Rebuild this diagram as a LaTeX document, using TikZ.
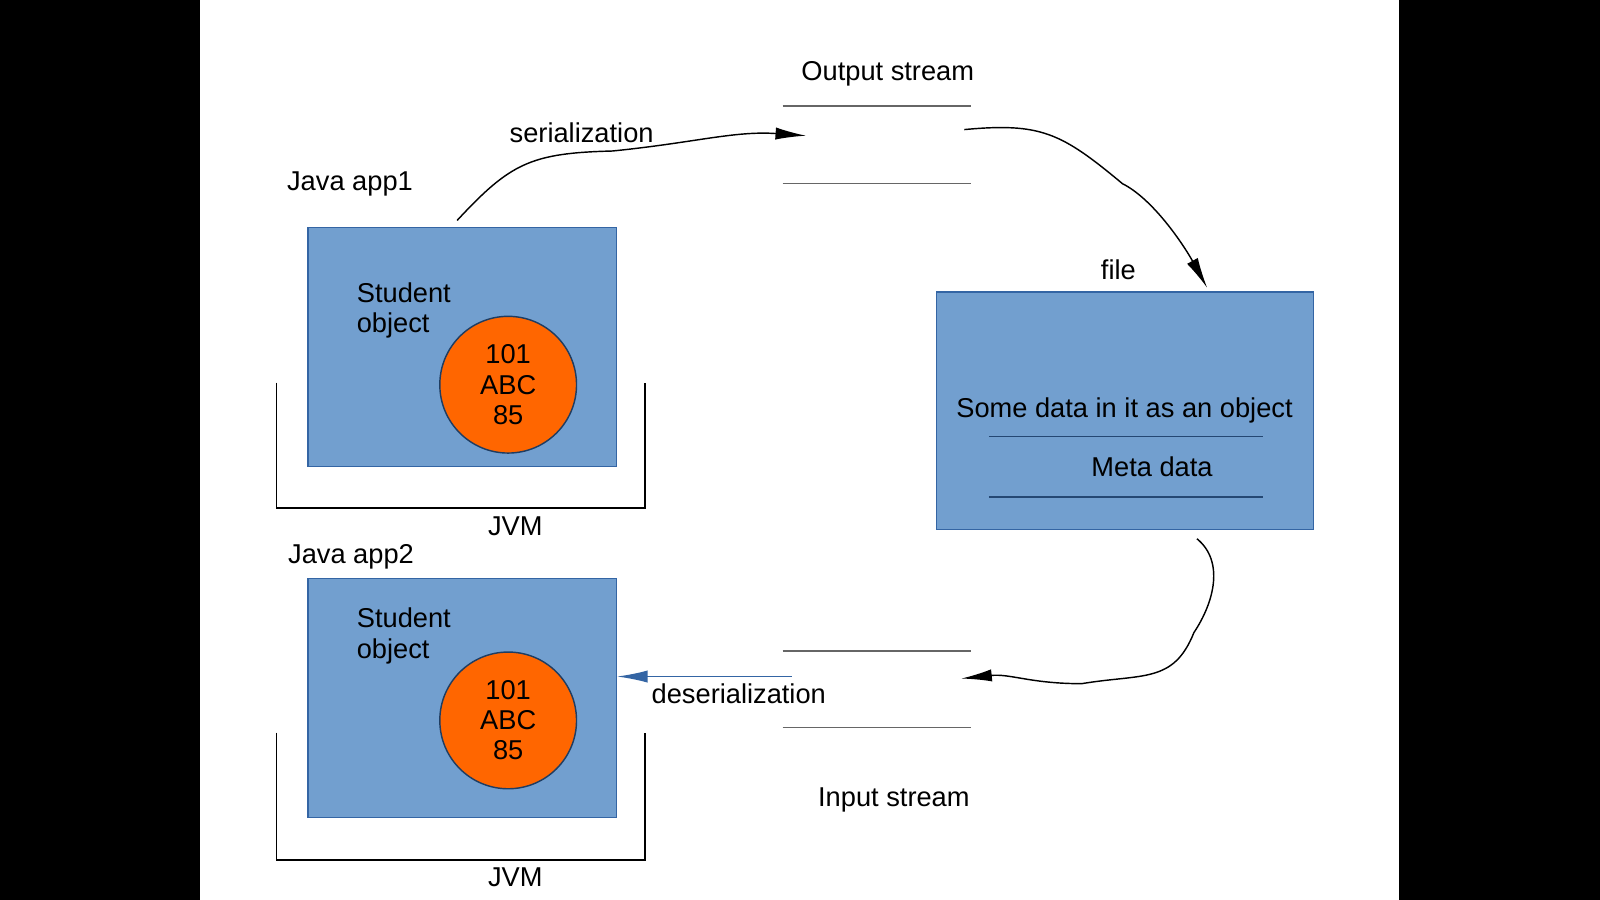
\documentclass[tikz,border=0pt]{standalone}
\usepackage{fontspec}
\setmainfont{Liberation Sans}
\usetikzlibrary{arrows.meta, positioning}
\definecolor{boxblue}{RGB}{114, 159, 207}
\definecolor{boxedge}{RGB}{52, 101, 164}
\definecolor{objorange}{RGB}{255, 102, 0}
\begin{document}
\begin{tikzpicture}[
    x=0.1cm, y=-0.1cm,
    every node/.style={font=\fontsize{7.6}{9}\selectfont},
    appbox/.style={rectangle, draw=boxedge, fill=boxblue, minimum width=3.02cm, minimum height=2.34cm},
    objnode/.style={circle, draw=boxedge!60!black, fill=objorange, minimum size=1.34cm, align=center, inner sep=0pt, font=\fontsize{7.6}{9}\selectfont},
    arr/.style={-{Latex[length=3mm, width=1.2mm]}, thin}
]
    % Frame
    \fill[black] (0,0) rectangle (156.8,88.2);
    \fill[white] (19.6,0) rectangle (137.1,88.2);
    \useasboundingbox (0,0) rectangle (156.8,88.2);

    % Java app1
    \node[appbox] (app1) at (45.3,34) {};
    \node[objnode] (obj1) at (49.8,37.7) {101\\[-0.6pt]ABC\\[-0.6pt]85};
    \node[align=left, anchor=north west, inner sep=0pt] (stu1) at (34.9,27.6) {Student\\[-0.4pt]object};
    \node (title1) at (34.3,18) {Java app1};
    \draw (27.1,37.5) -- (27.1,49.8) -- (63.2,49.8) -- (63.2,37.5);
    \node (jvm1) at (50.5,51.6) {JVM};

    % Java app2
    \node[appbox] (app2) at (45.3,68.4) {};
    \node[objnode] (obj2) at (49.8,70.6) {101\\[-0.6pt]ABC\\[-0.6pt]85};
    \node[align=left, anchor=north west, inner sep=0pt] (stu2) at (34.9,59.5) {Student\\[-0.4pt]object};
    \node (title2) at (34.4,54.6) {Java app2};
    \draw (27.1,71.8) -- (27.1,84.3) -- (63.2,84.3) -- (63.2,71.8);
    \node (jvm2) at (50.5,86) {JVM};

    % Streams
    \draw[gray!80!black] (76.7,10.4) -- (95.2,10.4);
    \draw[gray!80!black] (76.7,18) -- (95.2,18);
    \node (outs) at (87,7.2) {Output stream};
    \draw[gray!80!black] (76.7,63.8) -- (95.2,63.8);
    \draw[gray!80!black] (76.7,71.3) -- (95.2,71.3);
    \node (ins) at (87.6,78.4) {Input stream};

    % File
    \node[appbox, minimum width=3.69cm, minimum height=2.33cm] (file) at (110.25,40.25) {};
    \node (filelbl) at (109.6,26.4) {file};
    \node (data) at (110.2,40.2) {Some data in it as an object};
    \draw[boxedge!70!black] (96.9,42.8) -- (123.8,42.8);
    \node (meta) at (112.9,45.7) {Meta data};
    \draw[boxedge!70!black] (96.9,48.7) -- (123.8,48.7);

    % Connectors
    \coordinate (outin) at (79,13.3);
    \coordinate (outout) at (94.5,12.7);
    \coordinate (inin) at (94.2,66.5);
    \coordinate (inout) at (77.6,66.3);
    \draw[arr] (44.8,21.6) .. controls (50,16) and (52,15) .. (60,14.8) .. controls (68,14) and (72,12.8) .. (outin);
    \node (ser) at (57,13) {serialization};
    \draw[arr] (outout) .. controls (102,12) and (104,13) .. (110,18) .. controls (113,19.5) and (116,24) .. (118.3,28.2);
    \draw[arr] (117.3,52.8) .. controls (120,55) and (119,59) .. (117,62) .. controls (115,67) and (112,66) .. (106,67) .. controls (101,67) and (99,66) .. (inin);
    \draw[arr, boxedge] (inout) -- (app2.east |- inout);
    \node (deser) at (72.4,68) {deserialization};
\end{tikzpicture}
\end{document}
